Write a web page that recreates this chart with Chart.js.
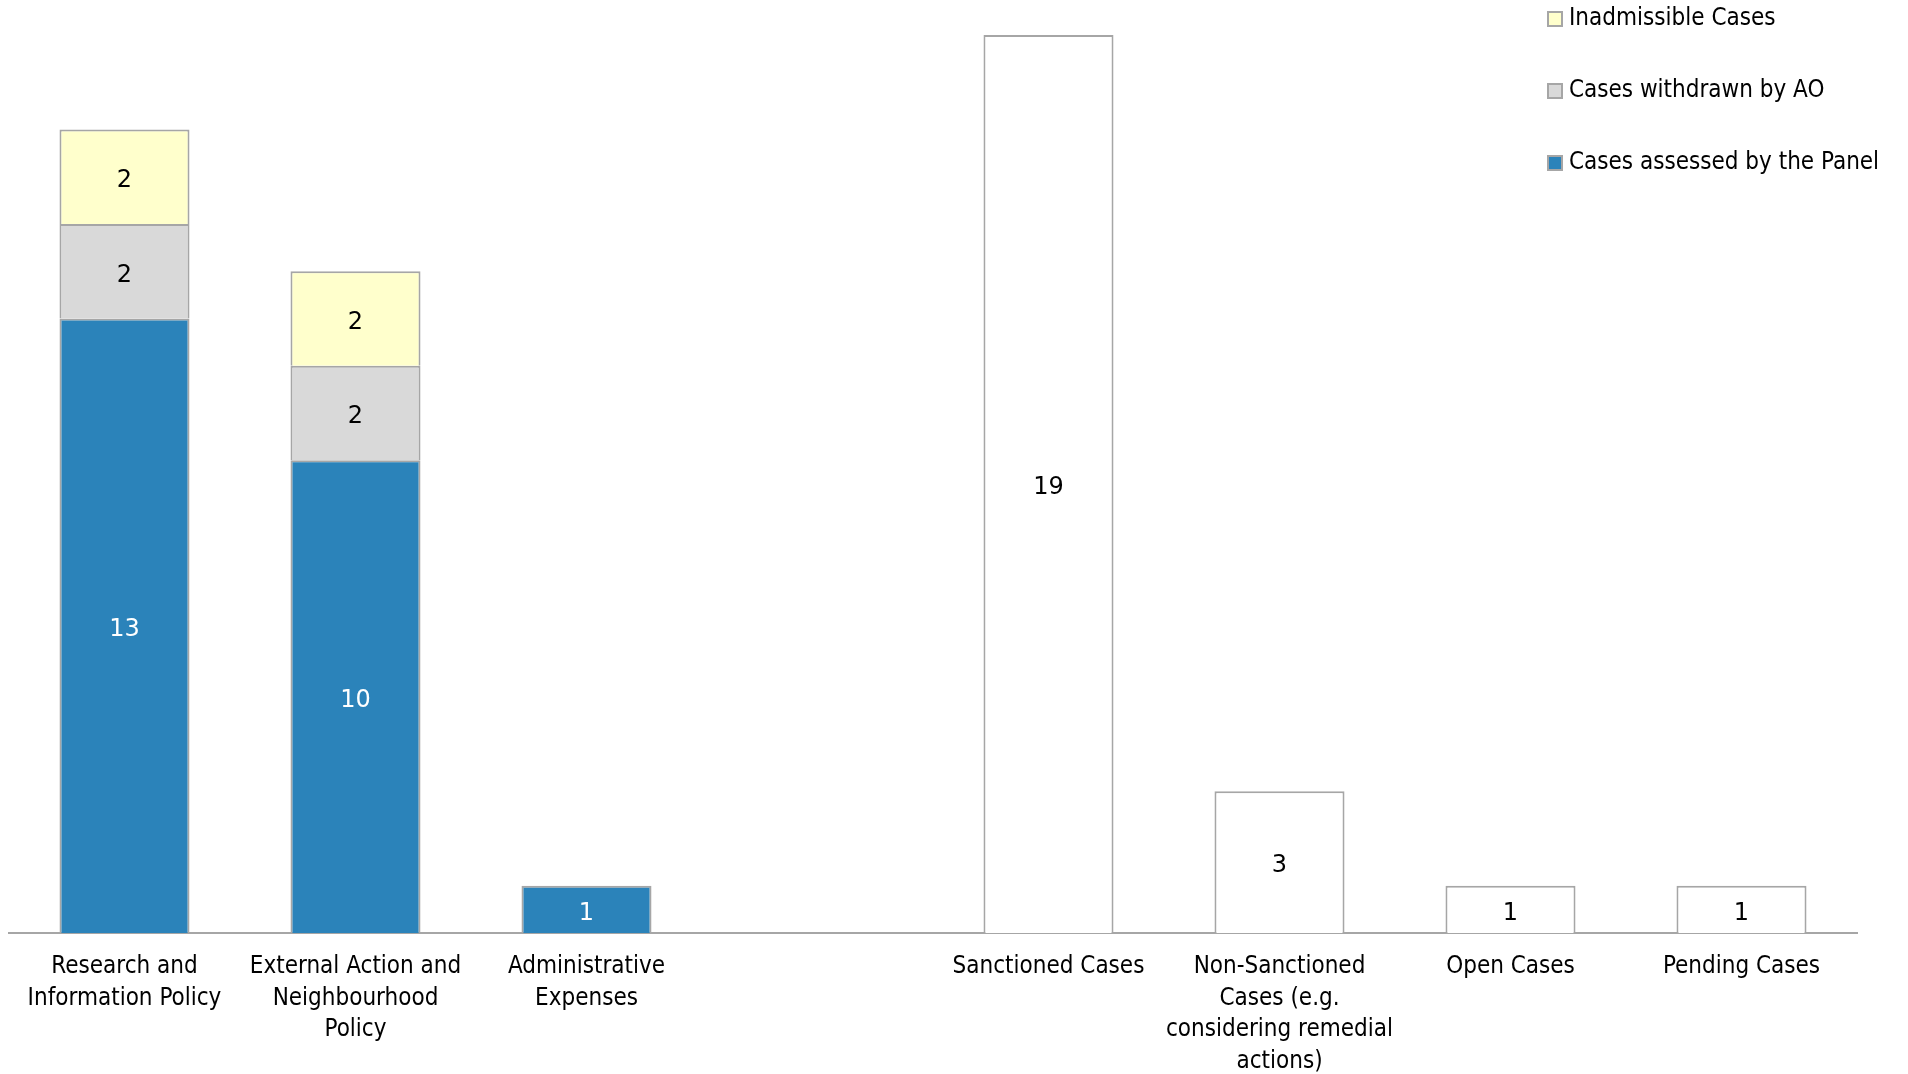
<!DOCTYPE html>
<html>
<head>
<meta charset="utf-8">
<title>Cases</title>
<script src="https://cdn.jsdelivr.net/npm/chart.js@4/dist/chart.umd.min.js"></script>
<style>
  body { margin: 0; background: #fff; }
  #wrap { width: 1908px; height: 1074px; position: relative; }
</style>
</head>
<body>
<div id="wrap"><canvas id="myChart"></canvas></div>
<script>
var categories = [
  ["Research and", "Information Policy"],
  ["External Action and", "Neighbourhood", "Policy"],
  ["Administrative", "Expenses"],
  "",
  "Sanctioned Cases",
  ["Non-Sanctioned", "Cases (e.g.", "considering remedial", "actions)"],
  "Open Cases",
  "Pending Cases"
];

var assessed = [13, 10, 1, null, null, null, null, null];
var withdrawn = [2, 2, null, null, null, null, null, null];
var inadmissible = [2, 2, null, null, null, null, null, null];
var outcomes = [null, null, null, null, 19, 3, 1, 1];

var FONT = "'Liberation Sans Narrow', 'DejaVu Sans Condensed', 'Roboto', sans-serif";
var BORDER = "#a6a6a6";

// values in the middle of each bar segment
var barValues = {
  id: "barValues",
  afterDatasetsDraw: function (chart) {
    var ctx = chart.ctx;
    ctx.save();
    ctx.font = "24px 'DejaVu Sans', sans-serif";
    ctx.textAlign = "center";
    ctx.textBaseline = "middle";
    chart.data.datasets.forEach(function (ds, i) {
      var meta = chart.getDatasetMeta(i);
      meta.data.forEach(function (bar, j) {
        var v = ds.data[j];
        if (v === null || v === undefined) return;
        ctx.fillStyle = ds.labelColor;
        ctx.fillText(String(v), bar.x, (bar.y + bar.base) / 2 + 4);
      });
    });
    ctx.restore();
  }
};

// legend in the top right corner, top item first
var cornerLegend = {
  id: "cornerLegend",
  afterDraw: function (chart) {
    var ctx = chart.ctx;
    var items = chart.data.datasets.filter(function (d) { return d.inLegend; }).reverse();
    ctx.save();
    ctx.font = "24px " + FONT;
    ctx.textBaseline = "middle";
    items.forEach(function (d, k) {
      var y = 19 + k * 72;
      ctx.fillStyle = d.backgroundColor;
      ctx.fillRect(1548, y - 7, 14, 14);
      ctx.strokeStyle = BORDER;
      ctx.lineWidth = 2;
      ctx.strokeRect(1548, y - 7, 14, 14);
      ctx.fillStyle = "#000";
      ctx.fillText(d.label, 1569, y);
    });
    ctx.restore();
  }
};

var ctx = document.getElementById("myChart");
var chart = new Chart(ctx, {
  type: "bar",
  data: {
    labels: categories,
    datasets: [
      {
        label: "Cases assessed by the Panel",
        data: assessed,
        backgroundColor: "#2b83ba",
        borderColor: BORDER,
        borderWidth: 2,
        labelColor: "#fff",
        inLegend: true
      },
      {
        label: "Cases withdrawn by AO",
        data: withdrawn,
        backgroundColor: "#d9d9d9",
        borderColor: BORDER,
        borderWidth: 2,
        labelColor: "#000",
        inLegend: true
      },
      {
        label: "Inadmissible Cases",
        data: inadmissible,
        backgroundColor: "#ffffcc",
        borderColor: BORDER,
        borderWidth: 2,
        labelColor: "#000",
        inLegend: true
      },
      {
        label: "Outcome",
        data: outcomes,
        backgroundColor: "#ffffff",
        borderColor: BORDER,
        borderWidth: 2,
        labelColor: "#000",
        inLegend: false
      }
    ]
  },
  options: {
    responsive: true,
    maintainAspectRatio: false,
    animation: false,
    layout: { padding: { top: 35, left: 9, right: 51, bottom: 0 } },
    datasets: { bar: { categoryPercentage: 1, barPercentage: 0.563 } },
    plugins: {
      legend: { display: false },
      tooltip: { enabled: false }
    },
    scales: {
      x: {
        stacked: true,
        grid: { display: false },
        border: { display: true, color: BORDER, width: 2 },
        ticks: {
          color: "#000",
          font: { family: FONT, size: 24, lineHeight: 1.32 },
          padding: 10,
          maxRotation: 0,
          autoSkip: false
        },
        afterFit: function (scale) { scale.height = 141; }
      },
      y: {
        stacked: true,
        display: false,
        min: 0,
        max: 19
      }
    }
  },
  plugins: [barValues, cornerLegend]
});
</script>
</body>
</html>
